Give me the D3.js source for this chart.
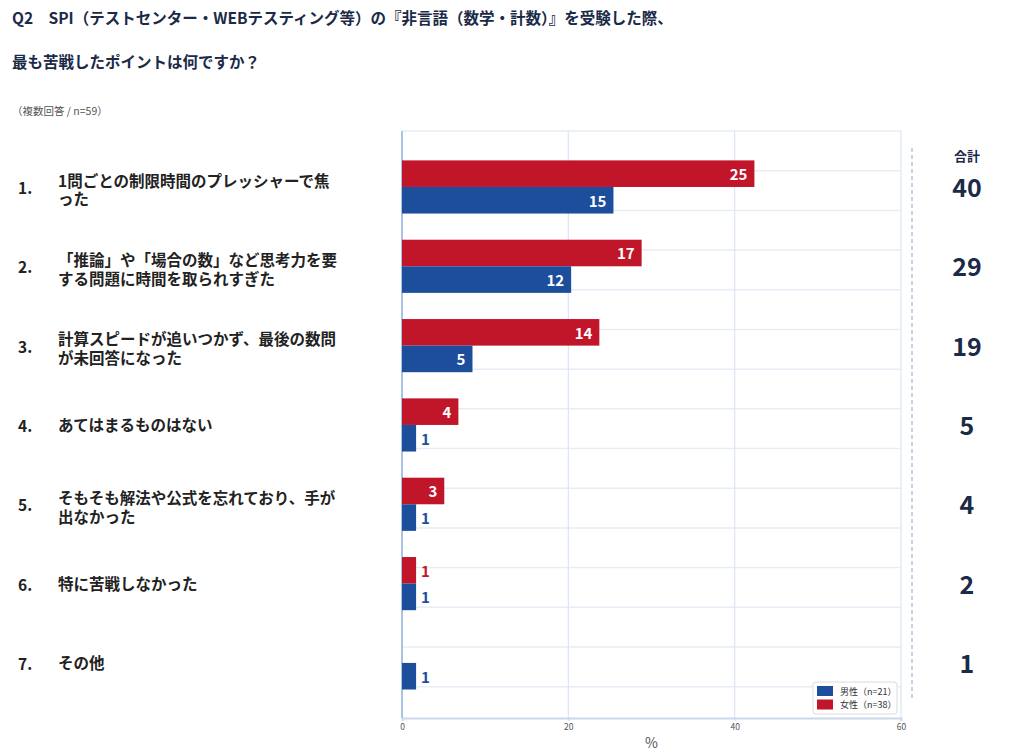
<!DOCTYPE html>
<html>
<head>
<meta charset="utf-8">
<script src="https://cdn.jsdelivr.net/npm/d3@7"></script>
<style>
  body { margin: 0; background: #fff; }
  svg { font-family: "Noto Sans CJK JP", "Noto Sans", sans-serif; }
</style>
</head>
<body>
<svg id="chart" width="1024" height="756"></svg>
<script>
// data
const categories = [
    ["1問ごとの制限時間のプレッシャーで焦", "った"],
    ["「推論」や「場合の数」など思考力を要", "する問題に時間を取られすぎた"],
    ["計算スピードが追いつかず、最後の数問", "が未回答になった"],
    ["あてはまるものはない"],
    ["そもそも解法や公式を忘れており、手が", "出なかった"],
    ["特に苦戦しなかった"],
    ["その他"]
];
const female = [25, 17, 14, 4, 3, 1, 0];
const male = [15, 12, 5, 1, 1, 1, 1];
const totals = [40, 29, 19, 5, 4, 2, 1];
const n_total = 59;
const xTicks = [0, 20, 40, 60];
const seriesNames = ["男性（n=21）", "女性（n=38）"];

const RED = "#c1152a";
const BLUE = "#1c4e9b";
const NAVY = "#1b2a47";

let svg = d3.select("#chart");

// title
svg.append("text").attr("x", 12).attr("y", 24)
    .style("font-size", "15.5px").style("font-weight", 700).style("fill", NAVY)
    .text("Q2\u3000SPI（テストセンター・WEBテスティング等）の『非言語（数学・計数）』を受験した際、");
svg.append("text").attr("x", 12).attr("y", 68)
    .style("font-size", "15.5px").style("font-weight", 700).style("fill", NAVY)
    .text("最も苦戦したポイントは何ですか？");
svg.append("text").attr("x", 12).attr("y", 115)
    .style("font-size", "10.5px").style("fill", "#555")
    .text("（複数回答 / n=" + n_total + "）");

// scales
let plotTop = 131, plotBottom = 718, plotLeft = 402, plotRight = 901;

let x = d3.scaleLinear().domain([0, 60]).range([plotLeft, plotRight]);

let y = d3.scaleBand().domain(d3.range(categories.length))
    .range([147.3, 702.6])
    .paddingInner(0.33).paddingOuter(0.165);

let ySub = d3.scaleBand().domain(["female", "male"]).range([0, y.bandwidth()]);

// horizontal gridlines every half row
let gridY = d3.scaleLinear().domain([0, 14]).range([plotTop, 686.7]);
svg.append("g").selectAll("line").data(d3.range(15)).join("line")
    .attr("x1", plotLeft).attr("x2", plotRight)
    .attr("y1", d => gridY(d)).attr("y2", d => gridY(d))
    .style("stroke", "#e6edf6").style("stroke-width", 1.5);

// vertical gridlines
svg.append("g").selectAll("line").data(xTicks.slice(1)).join("line")
    .attr("x1", d => x(d)).attr("x2", d => x(d))
    .attr("y1", plotTop).attr("y2", plotBottom)
    .style("stroke", "#dbe6f3").style("stroke-width", 1.2);

// x axis
let xAxis = svg.append("g")
    .attr("transform", "translate(0," + plotBottom + ")")
    .call(d3.axisBottom(x).tickValues(xTicks).tickSize(3).tickPadding(3));
xAxis.select(".domain").style("stroke", "#c9d8ec").style("stroke-width", 2);
xAxis.selectAll(".tick line").style("stroke", "#c9d8ec");
xAxis.selectAll(".tick text")
    .style("font-size", "8.5px").style("fill", "#555")
    .style("font-family", "'Noto Sans CJK JP', sans-serif");

svg.append("text").attr("x", (plotLeft + plotRight) / 2).attr("y", 748)
    .attr("text-anchor", "middle")
    .style("font-size", "14px").style("fill", "#555")
    .text("%");

// left axis line
svg.append("line")
    .attr("x1", plotLeft).attr("x2", plotLeft)
    .attr("y1", plotTop).attr("y2", plotBottom)
    .style("stroke", "#a9c3e3").style("stroke-width", 2);

// bars
let rows = categories.map((c, i) => ({
    i: i,
    bars: [
        { key: "female", value: female[i], color: RED },
        { key: "male", value: male[i], color: BLUE }
    ]
}));

let groups = svg.append("g").selectAll(".row_g").data(rows).join("g")
    .attr("class", "row_g")
    .attr("transform", d => "translate(0," + y(d.i) + ")");

let barSel = groups.selectAll(".bar_g").data(d => d.bars.filter(b => b.value > 0)).join("g")
    .attr("class", "bar_g");

barSel.append("rect")
    .attr("x", x(0))
    .attr("y", d => ySub(d.key))
    .attr("width", d => x(d.value / n_total * 100) - x(0))
    .attr("height", ySub.bandwidth())
    .style("fill", d => d.color);

let inside = d => x(d.value / n_total * 100) - x(0) > 25;

barSel.append("text")
    .attr("x", d => {
        let end = x(d.value / n_total * 100);
        return inside(d) ? end - 7 : end + 5;
    })
    .attr("y", d => ySub(d.key) + ySub.bandwidth() / 2)
    .attr("text-anchor", d => inside(d) ? "end" : "start")
    .attr("dominant-baseline", "central")
    .style("font-size", "15px").style("font-weight", 700)
    .style("fill", d => inside(d) ? "#fff" : d.color)
    .text(d => d.value);

// left labels
let labelG = svg.append("g").selectAll(".label_g").data(categories).join("g")
    .attr("class", "label_g")
    .attr("transform", (d, i) => "translate(0," + (y(i) + y.bandwidth() / 2) + ")");

labelG.append("text")
    .attr("x", 18).attr("y", 0)
    .attr("dominant-baseline", "central")
    .style("font-size", "15.5px").style("font-weight", 700).style("fill", "#222")
    .text((d, i) => (i + 1) + ".");

// one text per label, wrapped lines as tspans
let lh = 18.5;
labelG.append("text")
    .attr("dominant-baseline", "central")
    .style("font-size", "15.5px").style("font-weight", 700).style("fill", "#222")
    .selectAll("tspan").data(d => d.map(line => ({ line: line, count: d.length }))).join("tspan")
    .attr("x", 58)
    .attr("y", (t, k) => -(t.count - 1) * lh / 2 + (t.count > 1 ? 2 : -1) + k * lh)
    .attr("dominant-baseline", "central")
    .text(t => t.line);

// totals column
svg.append("line")
    .attr("x1", 912).attr("x2", 912)
    .attr("y1", 148).attr("y2", 700)
    .style("stroke", "#9bb8dc").style("stroke-width", 1.2)
    .style("stroke-dasharray", "4,3");

svg.append("text").attr("x", 967).attr("y", 155)
    .attr("text-anchor", "middle").attr("dominant-baseline", "central")
    .style("font-size", "13px").style("font-weight", 700).style("fill", NAVY)
    .text("合計");

svg.append("g").selectAll("text").data(totals).join("text")
    .attr("x", 967)
    .attr("y", (d, i) => y(i) + y.bandwidth() / 2 - 1)
    .attr("text-anchor", "middle").attr("dominant-baseline", "central")
    .style("font-size", "25px").style("font-weight", 700).style("fill", NAVY)
    .text(d => d);

// legend
let legend = svg.append("g").attr("transform", "translate(813,682)");
legend.append("rect")
    .attr("width", 84).attr("height", 32).attr("rx", 3)
    .style("fill", "#fff").style("stroke", "#dcdcdc");
let legendItems = legend.selectAll(".leg").data(seriesNames).join("g")
    .attr("class", "leg")
    .attr("transform", (d, i) => "translate(4," + (4 + i * 13.5) + ")");
legendItems.append("rect")
    .attr("width", 16).attr("height", 10)
    .style("fill", (d, i) => i === 0 ? BLUE : RED);
legendItems.append("text")
    .attr("x", 23).attr("y", 5)
    .attr("dominant-baseline", "central")
    .style("font-size", "9px").style("fill", "#333")
    .text(d => d);
</script>
</body>
</html>
